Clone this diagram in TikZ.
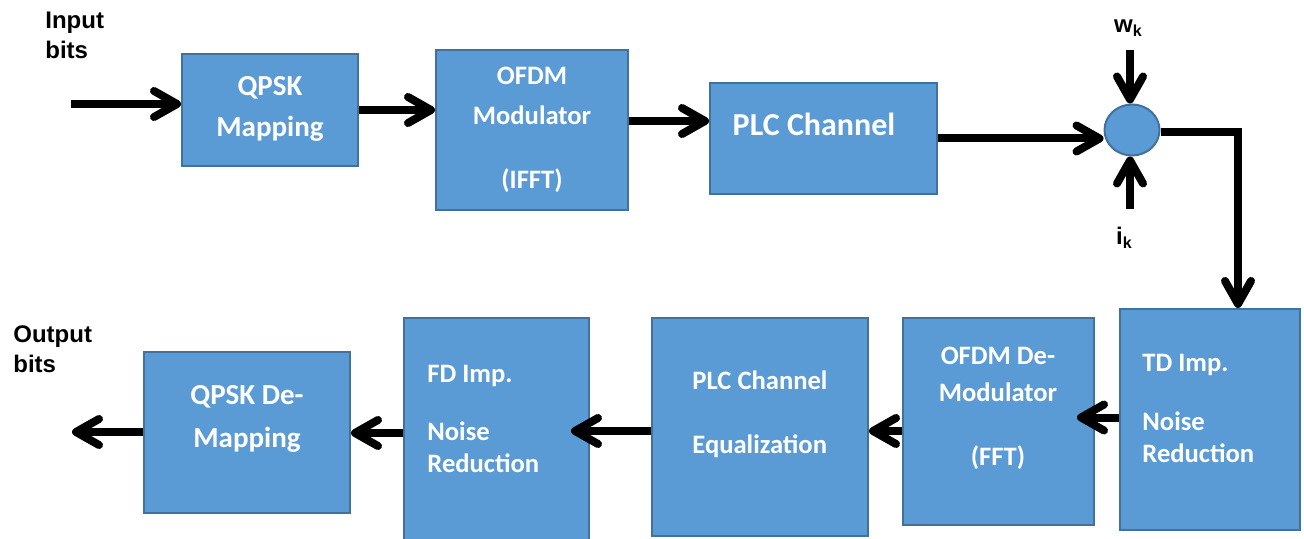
\documentclass[tikz,border=0pt]{standalone}
\usepackage{fontspec}
\newfontfamily\carl{Carlito}
\newfontfamily\arialf{Liberation Sans}
\usetikzlibrary{arrows.meta,calc,shapes.geometric}
\definecolor{boxfill}{HTML}{5B9BD5}
\definecolor{boxdraw}{HTML}{41719C}
\begin{document}
\begin{tikzpicture}[x=0.5pt,y=-0.5pt,
  blk/.style={draw=boxdraw,fill=boxfill,line width=1pt,inner sep=0pt,rectangle},
  btxt/.style={text=white,font=\carl\bfseries\fontsize{13.3pt}{16pt}\selectfont,inner sep=0pt},
  bigtxt/.style={btxt,font=\carl\bfseries\fontsize{14.5pt}{16pt}\selectfont},
  lbl/.style={font=\arialf\bfseries\fontsize{12pt}{15pt}\selectfont,inner sep=0pt,align=left},
  conn/.style={line width=4pt,-{Straight Barb[length=11.5pt,width=13pt,round]}}]
\fill[white] (0,0) rectangle (1304,539);
\clip (0,0) rectangle (1304,539);

% blocks
\node[blk,minimum width=88pt,minimum height=56pt] (qpsk) at (270,110) {};
\node[blk,minimum width=96pt,minimum height=80pt] (ofdm) at (532,130) {};
\node[blk,minimum width=113.5pt,minimum height=55.5pt] (plc) at (823.5,138.5) {};
\node[draw=boxdraw,fill=boxfill,line width=1pt,ellipse,inner sep=0pt,minimum width=27.5pt,minimum height=25.5pt] (sum) at (1132,130) {};
\node[blk,minimum width=90pt,minimum height=110.5pt] (td) at (1210,419.5) {};
\node[blk,minimum width=95.5pt,minimum height=103.5pt] (ofdmde) at (998.5,421.5) {};
\node[blk,minimum width=108pt,minimum height=109pt] (eq) at (760,427) {};
\node[blk,minimum width=92.5pt,minimum height=115pt] (fd) at (496.5,433) {};
\node[blk,minimum width=103pt,minimum height=80.5pt] (qpskde) at (247,432.5) {};

% block texts
\node[bigtxt,align=center] (tqpsk) at (270,109) {QPSK\\[4.5pt]Mapping};
\node[btxt,align=center] (tofdm) at (532,130) {OFDM\\[4pt]Modulator\\[16pt](IFFT)};
\node[btxt,font=\carl\bfseries\fontsize{16pt}{19pt}\selectfont] (tplc) at (814,124) {PLC Channel};
\node[bigtxt,align=center] (tqpskde) at (247,419) {QPSK De-\\[5.5pt]Mapping};
\node[btxt,align=left,anchor=west] (tfd) at (427,419) {FD Imp.\\[13pt]Noise\\Reduction};
\node[btxt,align=left,anchor=west] (teq) at (692,414) {PLC Channel\\[16pt]Equalization};
\node[btxt,align=center] (tofdmde) at (998,408.5) {OFDM De-\\[2.5pt]Modulator\\[16pt](FFT)};
\node[btxt,align=left,anchor=west] (ttd) at (1142,408.5) {TD Imp.\\[13.5pt]Noise\\Reduction};

% labels
\node[lbl,anchor=west] (inlbl) at (45,35) {Input\\bits};
\node[lbl,anchor=west] (outlbl) at (13,349) {Output\\bits};
\node[lbl] (wk) at (1128,28) {w{\fontsize{8pt}{8pt}\selectfont\raisebox{-2pt}{k}}};
\node[lbl] (ik) at (1124,238) {i{\fontsize{8pt}{8pt}\selectfont\raisebox{-2pt}{k}}};

% connectors
\coordinate (inp) at (71,104);
\draw[conn] (inp) -- (inp -| qpsk.west);
\draw[conn] (qpsk.east) -- (qpsk.east -| ofdm.west);
\coordinate (a1) at ($(ofdm.east)+(0,-9)$);
\draw[conn] (a1) -- (a1 -| plc.west);
\draw[conn] (plc.east) -- (plc.east -| sum.west);
\coordinate (wsrc) at ($(sum.north)+(-2,-53)$);
\draw[conn] (wsrc) -- (wsrc |- sum.north);
\coordinate (isrc) at ($(sum.south)+(-2,53)$);
\draw[conn] (isrc) -- (isrc |- sum.south);
\coordinate (corner) at (1238,132);
\draw[conn] (sum.east |- corner) -- (corner) -- (corner |- td.north);
\coordinate (b1) at ($(td.west)+(0,-2)$);
\draw[conn] (b1) -- ($(b1 -| ofdmde.east)+(-18,0)$);
\coordinate (b2) at ($(ofdmde.west)+(0,9.5)$);
\draw[conn] (b2) -- (b2 -| eq.east);
\coordinate (b3) at ($(eq.west)+(0,4)$);
\draw[conn] (b3) -- ($(b3 -| fd.east)+(-19,0)$);
\draw[conn] (fd.west) -- (fd.west -| qpskde.east);
\coordinate (outp) at (72,432);
\draw[conn] (qpskde.west |- outp) -- (outp);
\end{tikzpicture}
\end{document}
